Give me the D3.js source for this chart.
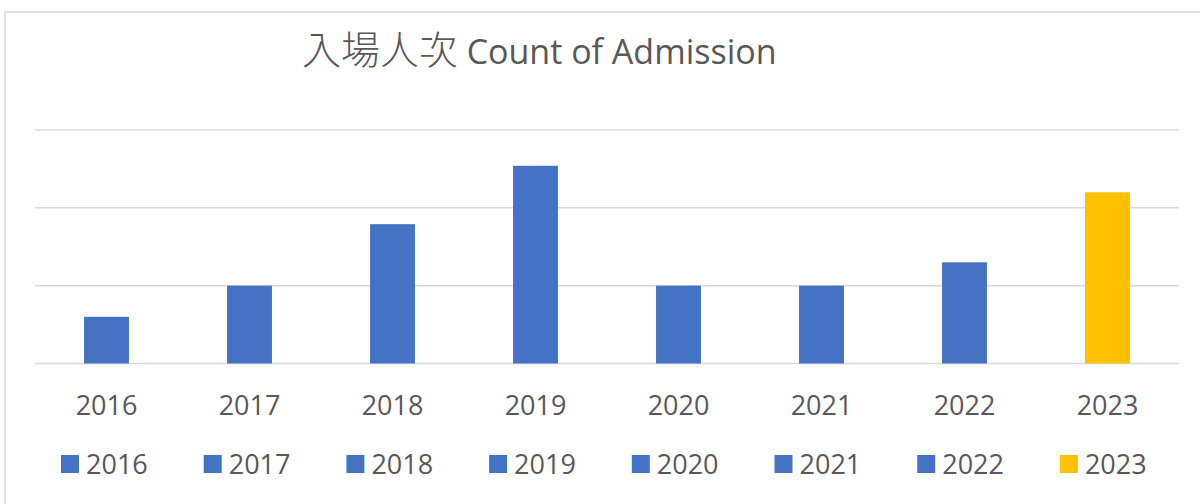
<!DOCTYPE html>
<html>
  <head>
    <meta charset="utf-8">
    <script src="https://d3js.org/d3.v7.min.js"></script>
    <style>
        body { margin: 0; background: #fff; }
        .tick-label { font-family: "Open Sans", sans-serif; font-size: 27px; fill: #595959; }
        .legend text { font-family: "Open Sans", sans-serif; font-size: 27px; fill: #595959; }
        .title { fill: #595959; }
    </style>
  </head>
  <body>
    <svg width="1200" height="504"></svg>
    <script>
        const years = ["2016", "2017", "2018", "2019", "2020", "2021", "2022", "2023"];
        const admissions = [6, 10, 17.9, 25.4, 10, 10, 13, 22];
        const gridTicks = [0, 10, 20, 30];
        const colors = ["#4472c4", "#4472c4", "#4472c4", "#4472c4", "#4472c4", "#4472c4", "#4472c4", "#ffc000"];

        const svg = d3.select("svg");

        // chart frame (only top/left edge visible in the picture)
        svg.append("rect")
            .attr("x", 5)
            .attr("y", 12)
            .attr("width", 1210)
            .attr("height", 510)
            .style("fill", "none")
            .style("stroke", "#d9d9d9")
            .style("stroke-width", 1.5);

        const plot = {left: 35, right: 1179, top: 130, bottom: 363.5};

        const x = d3.scaleBand()
            .domain(years)
            .range([plot.left, plot.right])
            .paddingInner(0.686)
            .paddingOuter(0.343);

        const y = d3.scaleLinear()
            .domain([0, 30])
            .range([plot.bottom, plot.top]);

        // gridlines
        svg.append("g")
            .selectAll("line")
            .data(gridTicks)
            .enter().append("line")
            .attr("x1", plot.left)
            .attr("x2", plot.right)
            .attr("y1", d => y(d))
            .attr("y2", d => y(d))
            .style("stroke", "#d9d9d9")
            .style("stroke-width", 1.5);

        // bars
        svg.append("g")
            .selectAll("rect")
            .data(years)
            .enter().append("rect")
            .attr("x", d => x(d))
            .attr("y", (d, i) => y(admissions[i]))
            .attr("width", x.bandwidth())
            .attr("height", (d, i) => y(0) - y(admissions[i]))
            .style("fill", (d, i) => colors[i]);

        // x axis labels
        const xAxis = svg.append("g")
            .attr("transform", `translate(0, ${plot.bottom})`)
            .call(d3.axisBottom(x).tickSize(0).tickPadding(32));
        xAxis.select(".domain").remove();
        xAxis.selectAll("text")
            .attr("class", "tick-label")
            .attr("font-size", null)
            .attr("font-family", null)
            .attr("fill", null);

        // title
        const title = svg.append("text")
            .attr("class", "title")
            .attr("x", 302)
            .attr("y", 64)
            .attr("text-anchor", "start");
        title.append("tspan")
            .style("font-family", "'Noto Sans CJK TC'")
            .style("font-weight", 300)
            .style("font-size", "39px")
            .text("入場人次 ");
        title.append("tspan")
            .style("font-family", "'Open Sans', sans-serif")
            .style("font-size", "34px")
            .text("Count of Admission");

        // legend
        const legendStep = 142.7;
        const legend = svg.append("g")
            .attr("class", "legend")
            .selectAll("g")
            .data(years)
            .enter().append("g")
            .attr("transform", (d, i) => `translate(${61 + i * legendStep}, 455)`);

        legend.append("rect")
            .attr("width", 18)
            .attr("height", 18)
            .style("fill", (d, i) => colors[i]);

        legend.append("text")
            .attr("x", 25)
            .attr("y", 19)
            .text(d => d);
    </script>
  </body>
</html>
